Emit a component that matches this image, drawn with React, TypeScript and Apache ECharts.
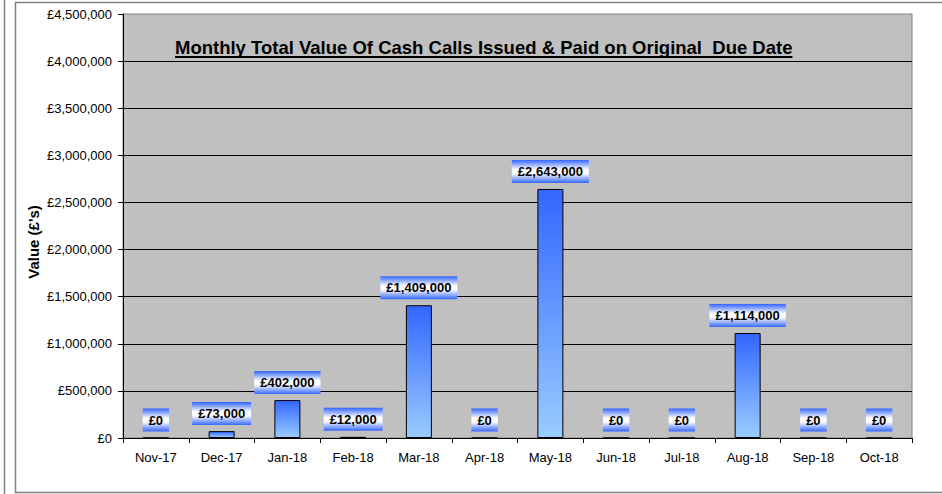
import React, { useEffect, useRef } from "react";
import * as echarts from "echarts";

const categories = ["Nov-17", "Dec-17", "Jan-18", "Feb-18", "Mar-18", "Apr-18", "May-18", "Jun-18", "Jul-18", "Aug-18", "Sep-18", "Oct-18"];
const values = [0, 73000, 402000, 12000, 1409000, 0, 2643000, 0, 0, 1114000, 0, 0];
const yMax = 4500000;
const yInterval = 500000;
const titleText = "Monthly Total Value Of Cash Calls Issued & Paid on Original  Due Date";
const yAxisName = "Value (£'s)";

const FONT = "'Liberation Sans', Arial, sans-serif";

function fmt(v: number) {
  return "£" + Math.round(v).toLocaleString("en-GB");
}

export default function App() {
  const ref = useRef<HTMLDivElement>(null);
  useEffect(() => {
    if (!ref.current) return;
    const chart = echarts.init(ref.current, null, { renderer: "svg" });
    const titleFont = "bold 18.5px " + FONT;
    let titleW = 624;
    try {
      const c = document.createElement("canvas").getContext("2d");
      if (c) {
        c.font = titleFont;
        titleW = c.measureText(titleText).width;
      }
    } catch (e) {}
    const labelBg = new echarts.graphic.LinearGradient(0, 0, 0, 1, [
      { offset: 0, color: "#3366ff" },
      { offset: 0.42, color: "#ffffff" },
      { offset: 0.58, color: "#ffffff" },
      { offset: 1, color: "#3366ff" },
    ]);
    chart.setOption({
      animation: false,
      grid: {
        left: 123,
        right: 30,
        top: 14,
        bottom: 56,
        show: true,
        backgroundColor: "#c0c0c0",
        borderColor: "#808080",
        borderWidth: 1,
      },
      xAxis: {
        type: "category",
        data: categories,
        axisLine: { lineStyle: { color: "#000", width: 1 } },
        axisTick: { show: true, length: 5, lineStyle: { color: "#000" } },
        axisLabel: { color: "#000", fontFamily: FONT, fontSize: 13, margin: 13 },
      },
      yAxis: {
        type: "value",
        min: 0,
        max: yMax,
        interval: yInterval,
        axisLine: { show: true, lineStyle: { color: "#000", width: 1 } },
        axisTick: { show: true, length: 5, lineStyle: { color: "#000" } },
        axisLabel: { color: "#000", fontFamily: FONT, fontSize: 13, margin: 11, formatter: (v: number) => fmt(v) },
        splitLine: { show: true, showMinLine: false, showMaxLine: false, lineStyle: { color: "#000", width: 1 } },
      },
      series: [
        {
          type: "bar",
          data: values,
          barWidth: 26,
          itemStyle: {
            color: new echarts.graphic.LinearGradient(0, 0, 0, 1, [
              { offset: 0, color: "#3366ff" },
              { offset: 1, color: "#99ccff" },
            ]),
            borderColor: "#000",
            borderWidth: 1,
          },
          label: {
            show: true,
            position: "top",
            distance: 6,
            formatter: (p: any) => fmt(p.value),
            color: "#000",
            fontFamily: FONT,
            fontWeight: "bold",
            fontSize: 13,
            backgroundColor: labelBg,
            padding: [5, 6, 5, 6],
          },
        },
      ],
      graphic: [
        { type: "line", shape: { x1: 4.5, y1: 0, x2: 4.5, y2: 494 }, style: { stroke: "#808080", lineWidth: 1.5 } },
        { type: "rect", shape: { x: 15.5, y: 2.5, width: 940, height: 490 }, style: { fill: "none", stroke: "#808080", lineWidth: 1.5 } },
        {
          type: "text",
          x: 175,
          y: 47,
          style: { text: titleText, font: titleFont, fill: "#000", textVerticalAlign: "middle", verticalAlign: "middle" },
        },
        { type: "line", shape: { x1: 175, y1: 57, x2: 175 + titleW, y2: 57 }, style: { stroke: "#000", lineWidth: 2 } },
        {
          type: "text",
          x: 33,
          y: 242,
          rotation: Math.PI / 2,
          style: {
            text: yAxisName,
            font: "bold 15px " + FONT,
            fill: "#000",
            align: "center",
            verticalAlign: "middle",
          },
        },
      ],
    });
    return () => chart.dispose();
  }, []);
  return <div ref={ref} style={{ width: 942, height: 494, position: "absolute", left: 0, top: 0 }} />;
}
